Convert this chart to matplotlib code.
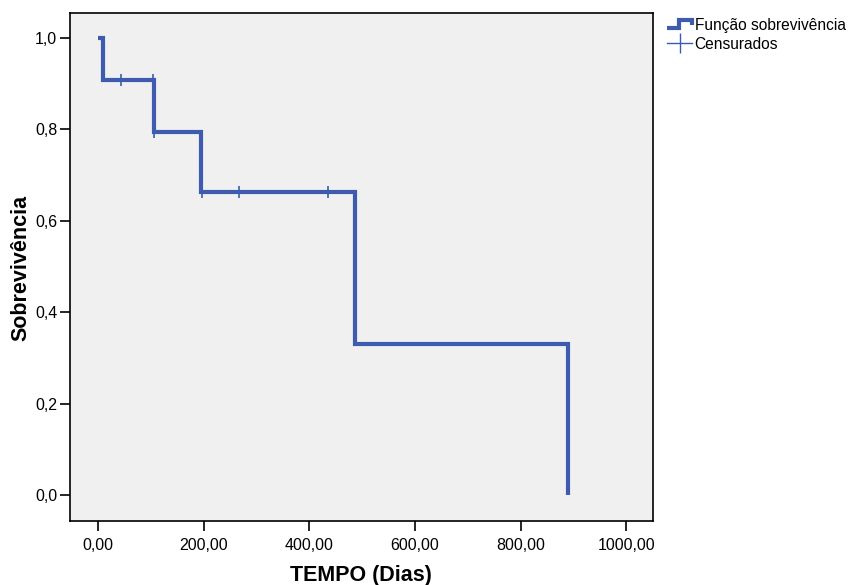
"""
Curva de sobrevivência (Kaplan-Meier) com censuras, estilo SPSS.
"""
import matplotlib
matplotlib.use('Agg')
import matplotlib.pyplot as plt
from matplotlib.lines import Line2D
from matplotlib.legend_handler import HandlerBase

plt.rcParams['font.family'] = ['Liberation Sans', 'DejaVu Sans']

# Tempos dos eventos (dias) e sobrevivência depois de cada um
event_times = [0, 10, 107, 196, 486, 890]
survival = [1.0, 0.909, 0.795, 0.663, 0.331, 0.0]

# Censuras: tempo e sobrevivência no momento
censor_times = [44, 104, 107, 198, 268, 435]
censor_surv = [0.909, 0.909, 0.795, 0.663, 0.663, 0.663]

x_ticks = [0, 200, 400, 600, 800, 1000]
x_ticklabels = ['0,00', '200,00', '400,00', '600,00', '800,00', '1000,00']
y_ticks = [0.0, 0.2, 0.4, 0.6, 0.8, 1.0]
y_ticklabels = ['0,0', '0,2', '0,4', '0,6', '0,8', '1,0']

BLUE = '#3f5bb0'


class StepHandler(HandlerBase):
    """Legend handle drawn as a small step, like SPSS."""
    def create_artists(self, legend, orig_handle, xdescent, ydescent,
                       width, height, fontsize, trans):
        x0, x1 = -xdescent, -xdescent + width
        y0, y1 = -ydescent + 0.2 * height, -ydescent + 0.9 * height
        xm = x0 + 0.45 * width
        line = Line2D([x0, xm, xm, x1, x1], [y0, y0, y1, y1, y0 + 0.25 * height],
                      color=BLUE, lw=3, solid_joinstyle='miter',
                      solid_capstyle='butt', transform=trans)
        return [line]


fig = plt.figure(figsize=(8.52, 5.85), dpi=100)
ax = fig.add_axes([0.082, 0.109, 0.684, 0.869])
ax.set_facecolor('#f0f0f0')

# step curve: extend last level down to zero at last event
xs, ys = [], []
for i, (t, s) in enumerate(zip(event_times, survival)):
    if i > 0:
        xs.append(t)
        ys.append(survival[i - 1])
    xs.append(t)
    ys.append(s)
ax.plot(xs, ys, color=BLUE, lw=3, solid_joinstyle='miter', solid_capstyle='butt')
ax.plot(censor_times, censor_surv, ls='none', marker='|', ms=9, mew=1.2, color=BLUE)

ax.set_xlim(-53, 1050)
ax.set_ylim(-0.057, 1.055)
ax.set_xticks(x_ticks)
ax.set_xticklabels(x_ticklabels)
ax.set_yticks(y_ticks)
ax.set_yticklabels(y_ticklabels)
ax.tick_params(direction='out', length=7, width=1.2, labelsize=11.5, colors='black', pad=2)
ax.tick_params(axis='x', pad=5)
for sp in ax.spines.values():
    sp.set_linewidth(1.2)

fig.text(361 / 852, 1 - 575 / 585, 'TEMPO (Dias)', fontsize=15.5, fontweight='bold',
         ha='center', va='center')
fig.text(21 / 852, 1 - 268 / 585, 'Sobrevivência', fontsize=15.5, fontweight='bold',
         ha='center', va='center', rotation=90)

h_func = Line2D([], [], color=BLUE, lw=3)
h_cens = Line2D([], [], color=BLUE, lw=1, marker='|', ms=14, mew=1)
fig.legend([h_func, h_cens], ['Função sobrevivência', 'Censurados'],
           handler_map={h_func: StepHandler()},
           loc='upper left', bbox_to_anchor=(0.776, 0.98), frameon=False,
           fontsize=11.2, handlelength=1.6, handletextpad=0.15, labelspacing=0.25,
           borderaxespad=0)

fig.savefig('out.png', dpi=100)
